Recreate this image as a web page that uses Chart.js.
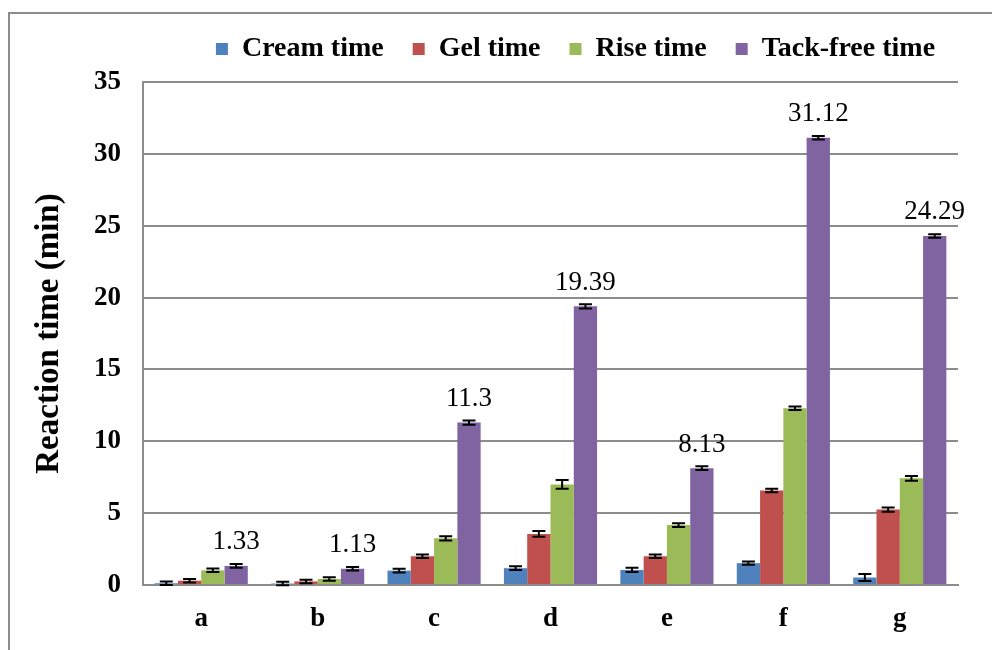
<!DOCTYPE html>
<html>
<head>
<meta charset="utf-8">
<script src="https://cdn.jsdelivr.net/npm/chart.js@4/dist/chart.umd.min.js"></script>
<style>
  html, body { margin: 0; padding: 0; background: #fff; }
  #wrap { position: relative; width: 992px; height: 650px; overflow: hidden; }
  #frame { position: absolute; left: 8px; top: 12px; width: 1100px; height: 700px;
           border-left: 2px solid #8c8c8c; border-top: 2px solid #8c8c8c; }
  canvas { position: absolute; left: 0; top: 0; }
</style>
</head>
<body>
<div id="wrap">
  <div id="frame"></div>
  <canvas id="myChart" width="992" height="650"></canvas>
</div>
<script>
// dados
var categorias = ['a', 'b', 'c', 'd', 'e', 'f', 'g'];
var series = ['Cream time', 'Gel time', 'Rise time', 'Tack-free time'];
var cores = ['#4F81BD', '#C0504D', '#9BBB59', '#8064A2'];

var creamTime = [0.12, 0.10, 1.00, 1.17, 1.05, 1.52, 0.52];
var gelTime = [0.30, 0.25, 2.00, 3.55, 2.00, 6.58, 5.25];
var riseTime = [1.02, 0.42, 3.25, 7.00, 4.17, 12.30, 7.42];
var tackFreeTime = [1.33, 1.13, 11.3, 19.39, 8.13, 31.12, 24.29];

var creamErr = [0.05, 0.05, 0.06, 0.06, 0.08, 0.05, 0.25];
var gelErr = [0.05, 0.05, 0.05, 0.20, 0.05, 0.12, 0.15];
var riseErr = [0.05, 0.05, 0.08, 0.30, 0.06, 0.05, 0.10];
var tackErr = [0.06, 0.06, 0.08, 0.08, 0.06, 0.06, 0.05];

var valores = [creamTime, gelTime, riseTime, tackFreeTime];
var erros = [creamErr, gelErr, riseErr, tackErr];

var fonte = "'Liberation Serif', 'Times New Roman', serif";

// barras de erro
var errorBars = {
    id: 'errorBars',
    afterDatasetsDraw: function(chart) {
        var ctx = chart.ctx;
        var y = chart.scales.y;
        ctx.save();
        ctx.strokeStyle = '#000';
        ctx.lineWidth = 2;
        chart.data.datasets.forEach(function(ds, i) {
            var meta = chart.getDatasetMeta(i);
            meta.data.forEach(function(bar, j) {
                var v = ds.data[j], e = ds.erro[j];
                var top = y.getPixelForValue(v + e);
                var bot = y.getPixelForValue(v - e);
                if (bot - top < 3) { top = top - 1; bot = bot + 1; }
                ctx.beginPath();
                ctx.moveTo(bar.x, top); ctx.lineTo(bar.x, bot);
                ctx.moveTo(bar.x - 6.5, top); ctx.lineTo(bar.x + 6.5, top);
                ctx.moveTo(bar.x - 6.5, bot); ctx.lineTo(bar.x + 6.5, bot);
                ctx.stroke();
            });
        });
        ctx.restore();
    }
};

// rótulos de valor nas barras de Tack-free
var rotulos = {
    id: 'rotulos',
    afterDatasetsDraw: function(chart) {
        var ctx = chart.ctx;
        var meta = chart.getDatasetMeta(3);
        ctx.save();
        ctx.fillStyle = '#000';
        ctx.font = "27px " + fonte;
        ctx.textAlign = 'center';
        ctx.textBaseline = 'alphabetic';
        meta.data.forEach(function(bar, j) {
            ctx.fillText(String(tackFreeTime[j]), bar.x, bar.y - 16.5);
        });
        ctx.restore();
    }
};

// altura fixa da legenda e deslocamento para a direita
var legendaAjuste = {
    id: 'legendaAjuste',
    beforeInit: function(chart) {
        var fit = chart.legend.fit;
        chart.legend.fit = function() {
            fit.bind(chart.legend)();
            this.height = 76;
        };
    },
    afterLayout: function(chart) {
        chart.legend.left += 25;
        chart.legend.right += 25;
    }
};

var datasets = series.map(function(nome, i) {
    return {
        label: nome,
        data: valores[i],
        erro: erros[i],
        backgroundColor: cores[i],
        borderWidth: 0
    };
});

var ctx = document.getElementById('myChart').getContext('2d');
var myChart = new Chart(ctx, {
    type: 'bar',
    data: { labels: categorias, datasets: datasets },
    plugins: [errorBars, rotulos, legendaAjuste],
    options: {
        responsive: false,
        animation: false,
        layout: { padding: { left: 30, right: 34, top: 6, bottom: 0 } },
        datasets: { bar: { categoryPercentage: 0.8, barPercentage: 1.0 } },
        plugins: {
            tooltip: { enabled: false },
            legend: {
                position: 'top',
                fullSize: false,
                labels: {
                    boxWidth: 12, boxHeight: 12,
                    padding: 29,
                    color: '#000',
                    font: { family: fonte, size: 28, weight: 'bold' }
                }
            }
        },
        scales: {
            x: {
                afterFit: function(s) { s.height = 65; },
                grid: { display: false, drawTicks: false },
                border: { color: '#8c8c8c', width: 2 },
                ticks: { padding: 18, color: '#000', font: { family: fonte, size: 27, weight: 'bold' } }
            },
            y: {
                min: 0, max: 35,
                afterFit: function(s) { s.width = 113; },
                grid: { color: '#8c8c8c', lineWidth: 2, drawTicks: false },
                border: { color: '#8c8c8c', width: 2 },
                ticks: { stepSize: 5, padding: 22, color: '#000', font: { family: fonte, size: 27, weight: 'bold' } },
                title: {
                    display: true,
                    text: 'Reaction time (min)',
                    color: '#000',
                    padding: 0,
                    font: { family: fonte, size: 33, weight: 'bold' }
                }
            }
        }
    }
});
</script>
</body>
</html>
